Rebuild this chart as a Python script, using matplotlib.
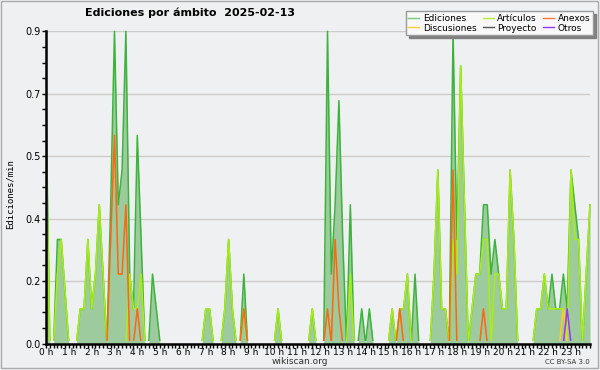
import matplotlib
matplotlib.use("Agg")
import matplotlib.pyplot as plt
from matplotlib.lines import Line2D
from matplotlib.patches import Rectangle
from matplotlib.ticker import MultipleLocator

# Edits per minute, 10-minute bins (6 per hour, one row per hour)
ediciones = [
    0.7, 0, 0, 0.3, 0.3, 0.15,
    0, 0, 0, 0.1, 0.1, 0.3,
    0.1, 0.2, 0.4, 0.2, 0, 0.4,
    0.9, 0.4, 0.5, 0.9, 0.2, 0.1,
    0.6, 0.3, 0, 0, 0.2, 0.1,
    0, 0, 0, 0, 0, 0,
    0, 0, 0, 0, 0, 0,
    0.1, 0.1, 0, 0, 0, 0.1,
    0.3, 0.1, 0, 0, 0.2, 0,
    0, 0, 0, 0, 0, 0,
    0, 0.1, 0, 0, 0, 0,
    0, 0, 0, 0, 0.1, 0,
    0, 0, 0.9, 0.2, 0.4, 0.7,
    0.3, 0, 0.4, 0, 0, 0.1,
    0, 0.1, 0, 0, 0, 0,
    0, 0.1, 0, 0.1, 0.1, 0.2,
    0, 0.2, 0, 0, 0, 0,
    0.2, 0.5, 0.1, 0.1, 0, 0.9,
    0.3, 0.8, 0.4, 0, 0.1, 0.2,
    0.2, 0.4, 0.4, 0.2, 0.3, 0.2,
    0.1, 0.1, 0.5, 0.3, 0, 0,
    0, 0, 0, 0.1, 0.1, 0.2,
    0.1, 0.2, 0.1, 0.1, 0.2, 0.1,
    0.5, 0.4, 0.3, 0, 0.2, 0.4,
]
articulos = [
    0.6, 0, 0, 0.2, 0.3, 0.15,
    0, 0, 0, 0.1, 0.1, 0.3,
    0.1, 0.2, 0.4, 0.2, 0, 0,
    0, 0, 0, 0, 0.2, 0.1,
    0.1, 0.2, 0, 0, 0, 0,
    0, 0, 0, 0, 0, 0,
    0, 0, 0, 0, 0, 0,
    0.1, 0.1, 0, 0, 0, 0.1,
    0.3, 0.1, 0, 0, 0.1, 0,
    0, 0, 0, 0, 0, 0,
    0, 0.1, 0, 0, 0, 0,
    0, 0, 0, 0, 0.1, 0,
    0, 0, 0, 0, 0, 0,
    0, 0, 0.2, 0, 0, 0,
    0, 0, 0, 0, 0, 0,
    0, 0.1, 0, 0.1, 0.1, 0.2,
    0, 0, 0, 0, 0, 0,
    0.2, 0.5, 0.1, 0.1, 0, 0.3,
    0.2, 0.8, 0.4, 0, 0.1, 0.2,
    0.2, 0.3, 0.3, 0, 0.2, 0.2,
    0.1, 0.1, 0.5, 0.3, 0, 0,
    0, 0, 0, 0.1, 0.1, 0.2,
    0.1, 0.1, 0.1, 0.1, 0.1, 0,
    0.5, 0.3, 0.3, 0, 0.2, 0.4,
]
anexos = [
    0, 0, 0, 0, 0, 0,
    0, 0, 0, 0, 0, 0,
    0, 0, 0, 0, 0, 0.3,
    0.6, 0.2, 0.2, 0.4, 0, 0,
    0.1, 0, 0, 0, 0, 0,
    0, 0, 0, 0, 0, 0,
    0, 0, 0, 0, 0, 0,
    0, 0, 0, 0, 0, 0,
    0, 0, 0, 0, 0.1, 0,
    0, 0, 0, 0, 0, 0,
    0, 0, 0, 0, 0, 0,
    0, 0, 0, 0, 0, 0,
    0, 0, 0.1, 0, 0.3, 0.1,
    0, 0, 0, 0, 0, 0,
    0, 0, 0, 0, 0, 0,
    0, 0, 0, 0.1, 0, 0,
    0, 0, 0, 0, 0, 0,
    0, 0, 0, 0, 0, 0.5,
    0, 0, 0, 0, 0, 0,
    0, 0.1, 0, 0, 0, 0,
    0, 0, 0, 0, 0, 0,
    0, 0, 0, 0, 0, 0,
    0, 0, 0, 0, 0, 0,
    0, 0, 0, 0, 0, 0,
]
discusiones = [0] * 136 + [0.1] + [0] * 7
proyecto = [0] * 144
otros = [0] * 137 + [0.1] + [0] * 6

hours = [i / 6 for i in range(144)]
hour_labels = [f"{h} h" for h in range(24)]
ytick_vals = [0, 0.18, 0.36, 0.54, 0.72, 0.9]
ytick_labels = ["0.0", "0.2", "0.4", "0.5", "0.7", "0.9"]

bg = "#eff0f1"
fig = plt.figure(figsize=(6, 3.7), dpi=100, facecolor=bg)
ax = fig.add_axes([46 / 600, 26.5 / 370, 544 / 600, 312.2 / 370])
ax.set_facecolor(bg)

# keep the zero stretches of the lines hidden under the x axis
clip = Rectangle((0, 0.006), 24, 1, transform=ax.transData)

ax.fill_between(hours, ediciones, color="#9dcb9d", lw=0, zorder=2)
series = [
    (ediciones, "#3cb43c", 3),
    (articulos, "#aaee11", 4),
    (anexos, "#ff6611", 5),
    (discusiones, "#ffcc22", 5),
    (proyecto, "#555555", 5),
    (otros, "#9933ff", 5),
]
for vals, col, z in series:
    line, = ax.plot(hours, vals, color=col, lw=1.1, zorder=z)
    line.set_clip_path(clip)

ax.set_xlim(0, 143 / 6)
ax.set_ylim(0, 0.9)
ax.set_xticks(range(24))
ax.set_xticklabels(hour_labels)
ax.xaxis.set_minor_locator(MultipleLocator(1 / 6))
ax.set_yticks(ytick_vals)
ax.set_yticklabels(ytick_labels)
ax.yaxis.set_minor_locator(MultipleLocator(0.045))
ax.tick_params(which="both", direction="out", length=3, width=1, color="black",
               labelsize=7, pad=1)
ax.tick_params(axis="x", labelsize=6.5, pad=0)
ax.grid(axis="y", which="major", color="#cccccc", lw=1, zorder=1)
ax.set_axisbelow(True)
for side in ("top", "right"):
    ax.spines[side].set_visible(False)
for side in ("left", "bottom"):
    ax.spines[side].set_linewidth(1.8)
    ax.spines[side].set_zorder(10)

fig.text(85 / 600, 1 - 13 / 370, "Ediciones por ámbito  2025-02-13",
         fontsize=8, fontweight="bold", ha="left", va="center")
fig.text(10 / 600, 1 - 194 / 370, "Ediciones/min", rotation=90,
         family="DejaVu Sans Mono", fontsize=6.5, ha="center", va="center")
fig.text(0.5, 1 - 362 / 370, "wikiscan.org", fontsize=6.5, ha="center", va="center",
         color="#333333")
fig.text(590 / 600, 1 - 362 / 370, "CC BY-SA 3.0", fontsize=5, ha="right", va="center",
         color="#333333")

handles = [
    Line2D([], [], color="#77cc77", lw=1),
    Line2D([], [], color="#ffcc33", lw=1),
    Line2D([], [], color="#bbee33", lw=1),
    Line2D([], [], color="#555555", lw=1),
    Line2D([], [], color="#ff7733", lw=1),
    Line2D([], [], color="#9933ff", lw=1),
]
labels = ["Ediciones", "Discusiones", "Artículos", "Proyecto", "Anexos", "Otros"]
leg = fig.legend(handles, labels, loc="upper right", bbox_to_anchor=(593 / 600, 1 - 11 / 370),
                 ncol=3, fontsize=6.5, frameon=True, fancybox=False,
                 shadow={"color": "#808080", "alpha": 1},
                 handlelength=1.2, handletextpad=0.4, columnspacing=0.7,
                 labelspacing=0.1, borderpad=0.3, borderaxespad=0)
leg.get_frame().set_edgecolor("#999999")
leg.get_frame().set_facecolor("#f8f8f8")
leg.get_frame().set_linewidth(1)

fig.add_artist(Rectangle((0.5 / 600, 2.5 / 370), 597 / 600, 367 / 370,
                         transform=fig.transFigure, fill=False, edgecolor="#aaaaaa", lw=1))

fig.savefig("out.png", dpi=100, facecolor=bg)
